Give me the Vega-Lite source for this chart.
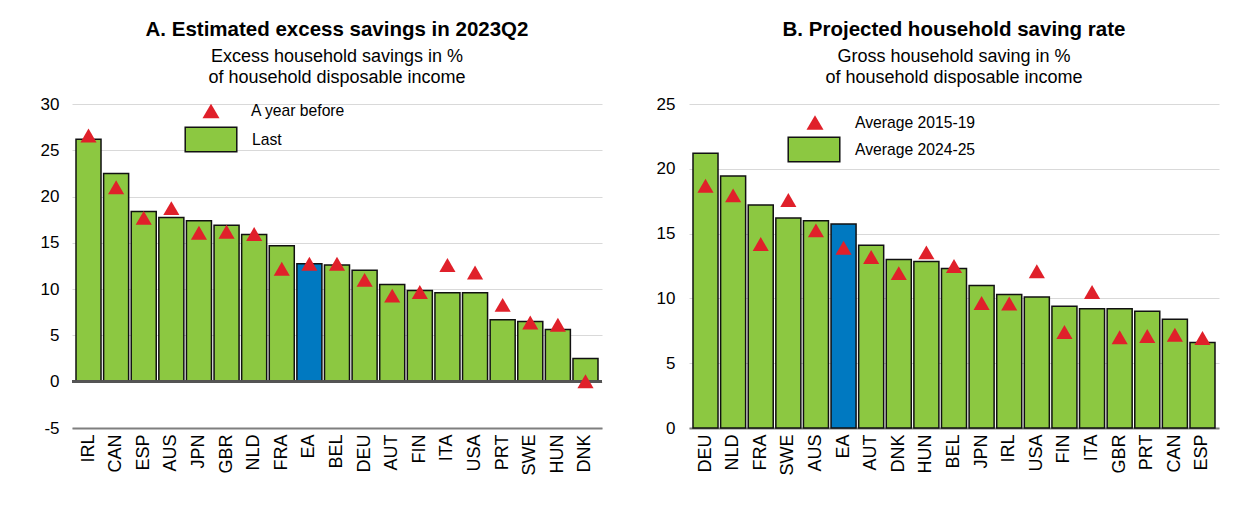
{
  "$schema": "https://vega.github.io/schema/vega-lite/v6.json",
  "background": "white",
  "padding": {"left": 40, "top": 20, "right": 10, "bottom": 5},
  "spacing": 53,
  "config": {
    "font": "Liberation Sans",
    "view": {"stroke": null},
    "axis": {"labelFont": "Liberation Sans", "labelColor": "black", "labelFontSize": 17, "ticks": false, "title": null, "gridColor": "#d9d9d9", "gridWidth": 1},
    "legend": {"padding": 0, "labelFont": "Liberation Sans", "labelFontSize": 15.7, "labelColor": "black"},
    "title": {"font": "Liberation Sans", "fontSize": 20.5, "fontWeight": "bold", "color": "black", "subtitleFont": "Liberation Sans", "subtitleFontSize": 18, "subtitleColor": "black", "subtitleLineHeight": 21, "subtitlePadding": 7, "offset": 8.5, "anchor": "middle"}
  },
  "datasets": {
    "a": [
      {"country": "IRL", "series": "Last", "value": 26.2},
      {"country": "CAN", "series": "Last", "value": 22.5},
      {"country": "ESP", "series": "Last", "value": 18.4},
      {"country": "AUS", "series": "Last", "value": 17.75},
      {"country": "JPN", "series": "Last", "value": 17.4},
      {"country": "GBR", "series": "Last", "value": 16.9},
      {"country": "NLD", "series": "Last", "value": 15.9},
      {"country": "FRA", "series": "Last", "value": 14.7},
      {"country": "EA", "series": "Last", "value": 12.75},
      {"country": "BEL", "series": "Last", "value": 12.6},
      {"country": "DEU", "series": "Last", "value": 12.05},
      {"country": "AUT", "series": "Last", "value": 10.5},
      {"country": "FIN", "series": "Last", "value": 9.85},
      {"country": "ITA", "series": "Last", "value": 9.6},
      {"country": "USA", "series": "Last", "value": 9.6},
      {"country": "PRT", "series": "Last", "value": 6.7},
      {"country": "SWE", "series": "Last", "value": 6.5},
      {"country": "HUN", "series": "Last", "value": 5.65},
      {"country": "DNK", "series": "Last", "value": 2.5},
      {"country": "IRL", "series": "A year before", "value": 26.6},
      {"country": "CAN", "series": "A year before", "value": 21.0},
      {"country": "ESP", "series": "A year before", "value": 17.7},
      {"country": "AUS", "series": "A year before", "value": 18.75},
      {"country": "JPN", "series": "A year before", "value": 16.1},
      {"country": "GBR", "series": "A year before", "value": 16.2},
      {"country": "NLD", "series": "A year before", "value": 15.95},
      {"country": "FRA", "series": "A year before", "value": 12.2},
      {"country": "EA", "series": "A year before", "value": 12.75},
      {"country": "BEL", "series": "A year before", "value": 12.75},
      {"country": "DEU", "series": "A year before", "value": 11.0},
      {"country": "AUT", "series": "A year before", "value": 9.3},
      {"country": "FIN", "series": "A year before", "value": 9.7},
      {"country": "ITA", "series": "A year before", "value": 12.6},
      {"country": "USA", "series": "A year before", "value": 11.8},
      {"country": "PRT", "series": "A year before", "value": 8.3},
      {"country": "SWE", "series": "A year before", "value": 6.4},
      {"country": "HUN", "series": "A year before", "value": 6.15},
      {"country": "DNK", "series": "A year before", "value": 0.05}
    ],
    "b": [
      {"country": "DEU", "series": "Average 2024-25", "value": 21.2},
      {"country": "NLD", "series": "Average 2024-25", "value": 19.45},
      {"country": "FRA", "series": "Average 2024-25", "value": 17.2},
      {"country": "SWE", "series": "Average 2024-25", "value": 16.2},
      {"country": "AUS", "series": "Average 2024-25", "value": 16.0},
      {"country": "EA", "series": "Average 2024-25", "value": 15.75},
      {"country": "AUT", "series": "Average 2024-25", "value": 14.1},
      {"country": "DNK", "series": "Average 2024-25", "value": 13.0},
      {"country": "HUN", "series": "Average 2024-25", "value": 12.85},
      {"country": "BEL", "series": "Average 2024-25", "value": 12.3},
      {"country": "JPN", "series": "Average 2024-25", "value": 11.0},
      {"country": "IRL", "series": "Average 2024-25", "value": 10.3},
      {"country": "USA", "series": "Average 2024-25", "value": 10.1},
      {"country": "FIN", "series": "Average 2024-25", "value": 9.4},
      {"country": "ITA", "series": "Average 2024-25", "value": 9.2},
      {"country": "GBR", "series": "Average 2024-25", "value": 9.2},
      {"country": "PRT", "series": "Average 2024-25", "value": 9.0},
      {"country": "CAN", "series": "Average 2024-25", "value": 8.4},
      {"country": "ESP", "series": "Average 2024-25", "value": 6.6},
      {"country": "DEU", "series": "Average 2015-19", "value": 18.7},
      {"country": "NLD", "series": "Average 2015-19", "value": 17.95},
      {"country": "FRA", "series": "Average 2015-19", "value": 14.2},
      {"country": "SWE", "series": "Average 2015-19", "value": 17.6},
      {"country": "AUS", "series": "Average 2015-19", "value": 15.25},
      {"country": "EA", "series": "Average 2015-19", "value": 13.9},
      {"country": "AUT", "series": "Average 2015-19", "value": 13.2},
      {"country": "DNK", "series": "Average 2015-19", "value": 11.95},
      {"country": "HUN", "series": "Average 2015-19", "value": 13.55},
      {"country": "BEL", "series": "Average 2015-19", "value": 12.5},
      {"country": "JPN", "series": "Average 2015-19", "value": 9.65},
      {"country": "IRL", "series": "Average 2015-19", "value": 9.6},
      {"country": "USA", "series": "Average 2015-19", "value": 12.1},
      {"country": "FIN", "series": "Average 2015-19", "value": 7.4},
      {"country": "ITA", "series": "Average 2015-19", "value": 10.5},
      {"country": "GBR", "series": "Average 2015-19", "value": 7.0},
      {"country": "PRT", "series": "Average 2015-19", "value": 7.1},
      {"country": "CAN", "series": "Average 2015-19", "value": 7.2},
      {"country": "ESP", "series": "Average 2015-19", "value": 6.95}
    ]
  },
  "resolve": {
    "scale": {"x": "independent", "y": "independent", "fill": "independent", "shape": "independent"},
    "legend": {"fill": "independent", "shape": "independent"}
  },
  "hconcat": [
    {
      "width": 530,
      "height": 324,
      "title": {"text": "A. Estimated excess savings in 2023Q2", "subtitle": ["Excess household savings in %", "of household disposable income"]},
      "data": {"name": "a"},
      "encoding": {
        "x": {"field": "country", "type": "nominal", "sort": ["IRL","CAN","ESP","AUS","JPN","GBR","NLD","FRA","EA","BEL","DEU","AUT","FIN","ITA","USA","PRT","SWE","HUN","DNK"],
              "scale": {"paddingInner": 0.094, "paddingOuter": 0.145},
              "axis": {"labelAngle": -90, "labelPadding": 6, "labelFontSize": 18, "domainColor": "#7f7f7f", "domainWidth": 2, "grid": false}},
        "y": {"field": "value", "type": "quantitative", "scale": {"domain": [-5, 30], "nice": false},
              "axis": {"values": [-5, 0, 5, 10, 15, 20, 25, 30], "labelExpr": "replace(datum.label, '\u2212', '-')", "domain": false, "labelPadding": 13, "grid": true}}
      },
      "layer": [
        {
          "transform": [{"filter": "datum.series === 'Last'"}],
          "mark": {"type": "bar", "stroke": "#111111", "strokeWidth": 1.5},
          "encoding": {
            "fill": {"field": "series", "type": "nominal",
                     "scale": {"domain": ["Last"], "range": ["#8cc841"]},
                     "condition": {"test": "datum.country === 'EA'", "value": "#0079c1"},
                     "legend": {"orient": "none", "legendX": 112, "legendY": 8.5, "title": null, "labelOffset": 14,
                                "symbolType": "M-1,-0.473H1V0.473H-1Z", "symbolSize": 2660, "symbolStrokeColor": "#111111", "symbolStrokeWidth": 1.5}}
          }
        },
        {
          "mark": {"type": "rule", "color": "#555555", "strokeWidth": 2},
          "encoding": {"y": {"datum": 0}, "x": null}
        },
        {
          "transform": [{"filter": "datum.series === 'A year before'"}],
          "mark": {"type": "point", "filled": true, "color": "#e0202a", "opacity": 1, "size": 260, "strokeWidth": 0},
          "encoding": {
            "shape": {"field": "series", "type": "nominal",
                      "scale": {"domain": ["A year before"], "range": ["triangle-up"]},
                      "legend": {"orient": "none", "legendX": 130, "legendY": -2, "title": null, "labelOffset": 31,
                                 "symbolFillColor": "#e0202a", "symbolStrokeWidth": 0, "symbolSize": 290}}
          }
        }
      ]
    },
    {
      "width": 530,
      "height": 324,
      "title": {"text": "B. Projected household saving rate", "subtitle": ["Gross household saving in %", "of household disposable income"]},
      "data": {"name": "b"},
      "encoding": {
        "x": {"field": "country", "type": "nominal", "sort": ["DEU","NLD","FRA","SWE","AUS","EA","AUT","DNK","HUN","BEL","JPN","IRL","USA","FIN","ITA","GBR","PRT","CAN","ESP"],
              "scale": {"paddingInner": 0.094, "paddingOuter": 0.145},
              "axis": {"labelAngle": -90, "labelPadding": 6, "labelFontSize": 18, "domainColor": "#7f7f7f", "domainWidth": 2, "grid": false}},
        "y": {"field": "value", "type": "quantitative", "scale": {"domain": [0, 25], "nice": false},
              "axis": {"values": [0, 5, 10, 15, 20, 25], "domain": false, "labelPadding": 14, "grid": true}}
      },
      "layer": [
        {
          "transform": [{"filter": "datum.series === 'Average 2024-25'"}],
          "mark": {"type": "bar", "stroke": "#111111", "strokeWidth": 1.5},
          "encoding": {
            "fill": {"field": "series", "type": "nominal",
                     "scale": {"domain": ["Average 2024-25"], "range": ["#8cc841"]},
                     "condition": {"test": "datum.country === 'EA'", "value": "#0079c1"},
                     "legend": {"orient": "none", "legendX": 98, "legendY": 18.5, "title": null, "labelOffset": 14,
                                "symbolType": "M-1,-0.473H1V0.473H-1Z", "symbolSize": 2660, "symbolStrokeColor": "#111111", "symbolStrokeWidth": 1.5}}
          }
        },
        {
          "transform": [{"filter": "datum.series === 'Average 2015-19'"}],
          "mark": {"type": "point", "filled": true, "color": "#e0202a", "opacity": 1, "size": 260, "strokeWidth": 0},
          "encoding": {
            "shape": {"field": "series", "type": "nominal",
                      "scale": {"domain": ["Average 2015-19"], "range": ["triangle-up"]},
                      "legend": {"orient": "none", "legendX": 117, "legendY": 9.5, "title": null, "labelOffset": 31,
                                 "symbolFillColor": "#e0202a", "symbolStrokeWidth": 0, "symbolSize": 290}}
          }
        }
      ]
    }
  ]
}
